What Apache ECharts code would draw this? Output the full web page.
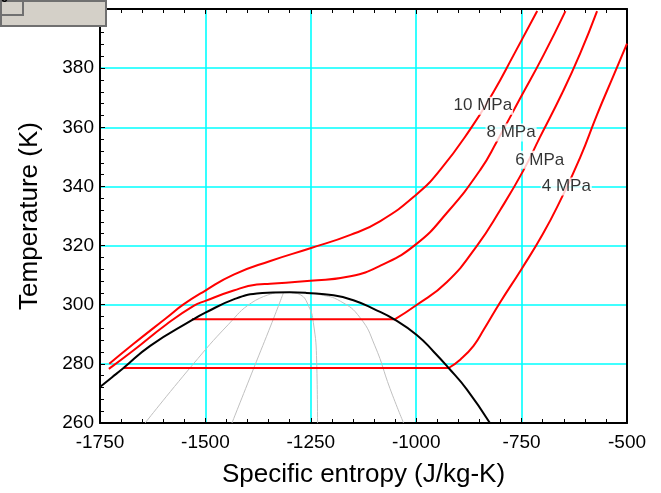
<!DOCTYPE html>
<html>
<head>
<meta charset="utf-8">
<script src="https://cdn.jsdelivr.net/npm/echarts@6/dist/echarts.min.js"></script>
<style>
html,body{margin:0;padding:0;background:#fff;}
#chart{width:661px;height:493px;}
</style>
</head>
<body>
<div id="chart"></div>
<script>
// ---- data (entropy s in J/kg-K, temperature T in K) ----
const xTicks = [-1750, -1500, -1250, -1000, -750, -500];
const yTicks = [260, 280, 300, 320, 340, 360, 380];

// saturation dome
const domeS = [-1750, -1722, -1695, -1631, -1528, -1500, -1433, -1378, -1340, -1300, -1260, -1196, -1149, -1101, -1050, -998, -959, -923, -880, -826];
const domeT = [272.2, 275.4, 278.5, 286.1, 295.1, 297.3, 301.8, 303.8, 304.1, 304.2, 304.0, 303.2, 301.5, 298.6, 294.9, 289.7, 284.2, 278.6, 271.4, 260.2];

// 4 MPa isobar
const p4FlatS = [-1695, -923];
const p4FlatT = [278.6, 278.6];
const p4S = [-923, -895, -864, -840, -800, -750, -700, -658, -611, -571, -531, -500];
const p4T = [278.6, 281.5, 286.1, 291.5, 301.0, 312.1, 323.8, 335.3, 349.8, 364.3, 377.8, 388.3];

// 6 MPa isobar
const p6FlatS = [-1532, -1050];
const p6FlatT = [295.1, 295.1];
const p6S = [-1050, -1000, -927, -856, -800, -745, -707, -654, -611, -571];
const p6T = [295.1, 299.8, 307.7, 319.9, 332.2, 345.6, 356.5, 371.5, 385.0, 399.3];

// 8 MPa isobar
const p8S = [-1729, -1671, -1592, -1528, -1500, -1433, -1378, -1346, -1251, -1156, -1085, -1000, -927, -848, -808, -753, -698, -646];
const p8T = [278.3, 284.5, 293.4, 299.6, 301.3, 304.8, 306.8, 307.1, 308.1, 309.6, 313.2, 320.5, 331.1, 345.6, 355.4, 369.9, 384.4, 399.3];

// 10 MPa isobar
const p10S = [-1728, -1671, -1592, -1552, -1500, -1433, -1346, -1251, -1156, -1085, -1000, -943, -872, -816, -769, -713];
const p10T = [280.0, 286.7, 295.6, 300.1, 304.8, 310.2, 314.8, 319.1, 323.6, 328.3, 337.2, 345.6, 359.3, 372.1, 384.4, 399.3];

// constant-quality lines inside the dome
const q1S = [-1335, -1390, -1445, -1532, -1643];
const q1T = [304.0, 300.7, 293.4, 279.4, 260.0];
const q2S = [-1315, -1342, -1386, -1437];
const q2T = [304.0, 294.0, 278.3, 260.0];
const q3S = [-1295, -1275, -1255, -1244, -1236, -1234];
const q3T = [304.0, 303.4, 299.5, 294.0, 280.6, 260.0];
const q4S = [-1265, -1228, -1180, -1133, -1098, -1062, -1030];
const q4T = [304.0, 303.4, 301.2, 295.6, 286.1, 271.6, 260.0];

// isobar labels
const labelText = ['10 MPa', '8 MPa', '6 MPa', '4 MPa'];
const labelS = [-842, -775, -707, -644];
const labelT = [367.3, 358.2, 349.0, 340.0];

// ---- build ----
const zip = (a, b) => a.map((v, i) => [v, b[i]]);
const FONT = '"Liberation Sans", Arial, Helvetica, sans-serif';
const GRID_CYAN = '#00ffff';

function line(data, color, width, smooth, z) {
  return {
    type: 'line', data: data, showSymbol: false, symbol: 'none',
    smooth: smooth, clip: true, z: z, silent: true,
    lineStyle: { color: color, width: width }
  };
}

const chart = echarts.init(document.getElementById('chart'), null, { renderer: 'canvas' });

const option = {
  animation: false,
  backgroundColor: '#ffffff',
  grid: { left: 100, right: 34, top: 9, bottom: 69, containLabel: false },
  xAxis: [{
    type: 'value', min: xTicks[0], max: xTicks[xTicks.length - 1], interval: 250,
    position: 'bottom',
    name: 'Specific entropy (J/kg-K)', nameLocation: 'middle', nameGap: 39,
    nameTextStyle: { fontFamily: FONT, fontSize: 26, color: '#000' },
    axisLine: { show: true, onZero: false, lineStyle: { color: '#000', width: 2 } },
    axisTick: { show: true, inside: true, length: 5, lineStyle: { color: '#000' } },
    minorTick: { show: true, splitNumber: 5, length: 4, lineStyle: { color: '#000' } },
    axisLabel: { fontFamily: FONT, fontSize: 19, color: '#000', margin: 10, formatter: v => String(v) },
    splitLine: { show: true, lineStyle: { color: GRID_CYAN, width: 1.6, opacity: 1 } },
    minorSplitLine: { show: false },
    splitArea: { show: false }
  }, {
    type: 'value', min: xTicks[0], max: xTicks[xTicks.length - 1], interval: 250,
    position: 'top',
    axisLine: { show: true, onZero: false, lineStyle: { color: '#000', width: 2 } },
    axisTick: { show: true, inside: true, length: 5, lineStyle: { color: '#000' } },
    minorTick: { show: true, splitNumber: 5, length: 4, lineStyle: { color: '#000' } },
    axisLabel: { show: false },
    splitLine: { show: false, lineStyle: { color: GRID_CYAN } },
    minorSplitLine: { show: false },
    splitArea: { show: false }
  }],
  yAxis: [{
    type: 'value', min: 260, max: 400, interval: 20,
    position: 'left',
    name: 'Temperature (K)', nameLocation: 'middle', nameGap: 57,
    nameTextStyle: { fontFamily: FONT, fontSize: 26, color: '#000' },
    axisLine: { show: true, onZero: false, lineStyle: { color: '#000', width: 2 } },
    axisTick: { show: true, inside: true, length: 5, lineStyle: { color: '#000' } },
    minorTick: { show: true, splitNumber: 5, length: 4, lineStyle: { color: '#000' } },
    axisLabel: {
      fontFamily: FONT, fontSize: 19, color: '#000', margin: 6,
      formatter: v => (yTicks.indexOf(v) >= 0 ? String(v) : '')
    },
    splitLine: { show: true, lineStyle: { color: GRID_CYAN, width: 1.6, opacity: 1 } },
    minorSplitLine: { show: false },
    splitArea: { show: false }
  }, {
    type: 'value', min: 260, max: 400, interval: 20,
    position: 'right',
    axisLine: { show: true, onZero: false, lineStyle: { color: '#000', width: 2 } },
    axisTick: { show: false }, axisLabel: { show: false },
    splitLine: { show: false, lineStyle: { color: GRID_CYAN } },
    minorSplitLine: { show: false },
    splitArea: { show: false }
  }],
  series: [
    line(zip(q1S, q1T), '#c0c0c0', 1, 0.5, 3),
    line(zip(q2S, q2T), '#c0c0c0', 1, 0.5, 3),
    line(zip(q3S, q3T), '#c0c0c0', 1, 0.5, 3),
    line(zip(q4S, q4T), '#c0c0c0', 1, 0.5, 3),
    line(zip(p4FlatS, p4FlatT), '#ff0000', 2, false, 4),
    line(zip(p4S, p4T), '#ff0000', 2, 0.5, 4),
    line(zip(p6FlatS, p6FlatT), '#ff0000', 2, false, 4),
    line(zip(p6S, p6T), '#ff0000', 2, 0.5, 4),
    line(zip(p8S, p8T), '#ff0000', 2, 0.5, 4),
    line(zip(p10S, p10T), '#ff0000', 2, 0.5, 4),
    line(zip(domeS, domeT), '#000000', 2, 0.5, 5),
    {
      type: 'scatter', z: 10, silent: true, symbolSize: 0,
      data: labelS.map((s, i) => ({ value: [s, labelT[i]], name: labelText[i] })),
      label: {
        show: true, position: 'inside', formatter: p => p.name,
        fontFamily: FONT, fontSize: 17, color: '#000',
        backgroundColor: '#ffffff', padding: [1, 1, 0, 1]
      }
    }
  ],
  graphic: [
    { type: 'rect', left: 0, top: 0, z: 100, shape: { width: 105, height: 25 },
      style: { fill: '#d4d0c8', stroke: '#707070', lineWidth: 2 } },
    { type: 'rect', left: 0, top: 0, z: 101, shape: { width: 22, height: 14 },
      style: { fill: '#d4d0c8', stroke: '#707070', lineWidth: 2 } },
    { type: 'text', left: 1, top: -7, z: 102,
      style: { text: 'c', fontFamily: FONT, fontSize: 12, fontWeight: 'bold', fill: '#000' } }
  ]
};
chart.setOption(option);
</script>
</body>
</html>
